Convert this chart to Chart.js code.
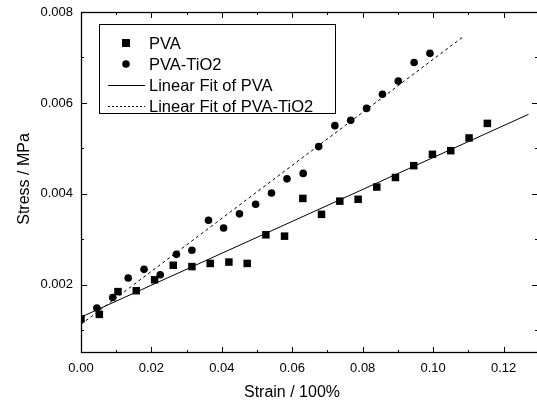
<!DOCTYPE html>
<html>
<head>
<meta charset="utf-8">
<script src="https://cdn.jsdelivr.net/npm/chart.js@4.4.0/dist/chart.umd.min.js"></script>
<style>
  html, body { margin: 0; padding: 0; background: #fff; }
  #wrap { width: 537px; height: 403px; position: relative; }
</style>
</head>
<body>
<div id="wrap"><canvas id="chart"></canvas></div>
<script>
// ---------- Data ----------
const strainPVA = [0.0000, 0.0052, 0.0105, 0.0157, 0.0209, 0.0262, 0.0315, 0.0367, 0.0420, 0.0472, 0.0525, 0.0578,
                   0.0630, 0.0683, 0.0735, 0.0787, 0.0840, 0.0893, 0.0945, 0.0998, 0.1050, 0.1102, 0.1154];
const stressPVA = [0.00125, 0.00135, 0.00185, 0.00187, 0.00211, 0.00243, 0.00240, 0.00247, 0.00250, 0.00247, 0.00310, 0.00307,
                   0.00390, 0.00355, 0.00384, 0.00388, 0.00415, 0.00436, 0.00462, 0.00487, 0.00495, 0.00523, 0.00555];

const strainTiO2 = [0.0045, 0.0090, 0.0134, 0.0179, 0.0225, 0.0271, 0.0315, 0.0362, 0.0405, 0.0450, 0.0496,
                    0.0541, 0.0585, 0.0631, 0.0675, 0.0721, 0.0766, 0.0811, 0.0856, 0.0901, 0.0946, 0.0991];
const stressTiO2 = [0.00149, 0.00172, 0.00215, 0.00234, 0.00222, 0.00267, 0.00276, 0.00342, 0.00325, 0.00356, 0.00377,
                    0.00402, 0.00433, 0.00445, 0.00504, 0.00550, 0.00562, 0.00588, 0.00619, 0.00648, 0.00689, 0.00709];

// fit lines: end points only
const fitPVAx = [0, 0.1271];
const fitPVAy = [0.00129, 0.00575];
const fitTiO2x = [0, 0.1086];
const fitTiO2y = [0.00113, 0.00746];

const seriesNames = ["PVA", "PVA-TiO2", "Linear Fit of PVA", "Linear Fit of PVA-TiO2"];
const xTitle = "Strain / 100%";
const yTitle = "Stress / MPa";

const FONT = "'Liberation Sans', Arial, Helvetica, sans-serif";

const toPoints = (xs, ys) => xs.map((x, i) => ({ x: x, y: ys[i] }));

// ---------- Plugin: frame, inward ticks, titles, legend ----------
const framePlugin = {
  id: "frame",
  afterDraw(chart) {
    const ctx = chart.ctx;
    const a = chart.chartArea;
    const xs = chart.scales.x, ys = chart.scales.y;
    ctx.save();
    ctx.strokeStyle = "#000";
    ctx.lineWidth = 1.3;
    // right edge of the frame sits just past the picture, as in the original
    ctx.strokeRect(a.left + 0.5, a.top + 0.5, a.right - a.left + 2, a.bottom - a.top - 1);

    // inward ticks on all four sides
    ctx.lineWidth = 1;
    ctx.beginPath();
    xs.ticks.forEach((t) => {
      const px = Math.round(xs.getPixelForValue(t.value)) + 0.5;
      const len = t.label ? 6 : 3;
      ctx.moveTo(px, a.bottom); ctx.lineTo(px, a.bottom - len);
      ctx.moveTo(px, a.top); ctx.lineTo(px, a.top + len);
    });
    ys.ticks.forEach((t) => {
      const py = Math.round(ys.getPixelForValue(t.value)) + 0.5;
      const len = t.label ? 6 : 3;
      ctx.moveTo(a.left, py); ctx.lineTo(a.left + len, py);
      ctx.moveTo(a.right + 1, py); ctx.lineTo(a.right + 1 - len, py);
    });
    ctx.stroke();

    // axis titles
    ctx.fillStyle = "#000";
    ctx.font = "16px " + FONT;
    ctx.textAlign = "center";
    ctx.textBaseline = "middle";
    ctx.fillText(xTitle, 292, 393);
    ctx.save();
    ctx.translate(25, 179);
    ctx.rotate(-Math.PI / 2);
    ctx.fillText(yTitle, 0, 0);
    ctx.restore();

    // legend box
    const lx = a.left + 18, ly = a.top + 12;
    ctx.lineWidth = 1;
    ctx.strokeRect(lx + 0.5, ly + 0.5, 236, 89);
    const rowY = [ly + 19, ly + 40, ly + 61, ly + 82];
    const mx = lx + 27;
    // square
    ctx.fillRect(mx - 4, rowY[0] - 4, 8, 8);
    // circle
    ctx.beginPath();
    ctx.arc(mx, rowY[1], 3.8, 0, Math.PI * 2);
    ctx.fill();
    // solid line
    ctx.beginPath();
    ctx.moveTo(lx + 9, rowY[2] + 0.5); ctx.lineTo(lx + 46, rowY[2] + 0.5);
    ctx.stroke();
    // dotted line
    ctx.setLineDash([2, 2]);
    ctx.beginPath();
    ctx.moveTo(lx + 9, rowY[3] + 0.5); ctx.lineTo(lx + 46, rowY[3] + 0.5);
    ctx.stroke();
    ctx.setLineDash([]);
    ctx.textAlign = "left";
    ctx.font = "16.5px " + FONT;
    seriesNames.forEach((name, i) => ctx.fillText(name, lx + 50, rowY[i] + 1));
    ctx.restore();
  }
};

// ---------- Chart ----------
new Chart(document.getElementById("chart"), {
  type: "scatter",
  data: {
    datasets: [
      {
        label: seriesNames[0],
        data: toPoints(strainPVA, stressPVA),
        pointStyle: "rect",
        pointRadius: 5.3,
        pointBackgroundColor: "#000",
        pointBorderWidth: 0,
        showLine: false
      },
      {
        label: seriesNames[1],
        data: toPoints(strainTiO2, stressTiO2),
        pointStyle: "circle",
        pointRadius: 3.8,
        pointBackgroundColor: "#000",
        pointBorderWidth: 0,
        showLine: false
      },
      {
        label: seriesNames[2],
        data: toPoints(fitPVAx, fitPVAy),
        showLine: true,
        borderColor: "#000",
        borderWidth: 1,
        pointRadius: 0
      },
      {
        label: seriesNames[3],
        data: toPoints(fitTiO2x, fitTiO2y),
        showLine: true,
        borderColor: "#000",
        borderWidth: 1,
        borderDash: [3, 3],
        pointRadius: 0
      }
    ]
  },
  options: {
    responsive: true,
    maintainAspectRatio: false,
    animation: false,
    layout: { autoPadding: false, padding: { top: 12, right: 0, left: 0, bottom: 0 } },
    plugins: {
      legend: { display: false },
      tooltip: { enabled: false }
    },
    scales: {
      x: {
        type: "linear",
        min: 0,
        max: 0.1295,
        grid: { display: false, drawTicks: false },
        border: { display: false },
        ticks: {
          stepSize: 0.01,
          includeBounds: false,
          autoSkip: false,
          maxRotation: 0,
          padding: 8,
          color: "#000",
          font: { family: FONT, size: 13 },
          callback: (v) => (Math.round(v * 100) % 2 === 0 ? v.toFixed(2) : "")
        },
        afterFit: (s) => { s.height = 50; s.paddingLeft = 0; s.paddingRight = 0; }
      },
      y: {
        type: "linear",
        min: 0.0005,
        max: 0.008,
        grid: { display: false, drawTicks: false },
        border: { display: false },
        ticks: {
          stepSize: 0.001,
          includeBounds: false,
          autoSkip: false,
          padding: 8,
          color: "#000",
          font: { family: FONT, size: 13 },
          callback: (v) => (Math.round(v * 1000) % 2 === 0 ? v.toFixed(3) : "")
        },
        afterFit: (s) => { s.width = 81; s.paddingTop = 0; s.paddingBottom = 0; }
      }
    }
  },
  plugins: [framePlugin]
});
</script>
</body>
</html>
